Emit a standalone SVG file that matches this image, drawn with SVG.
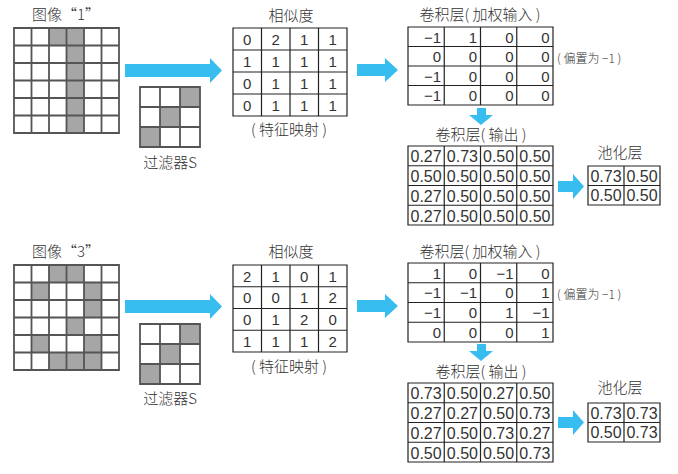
<svg xmlns="http://www.w3.org/2000/svg" width="678" height="474" viewBox="0 0 678 474">
<style>
.t{font-family:"Noto Sans CJK SC","Liberation Sans",sans-serif;font-weight:300;fill:#333;font-size:15px}
.s{font-size:12px}
.n{font-family:"Liberation Sans","DejaVu Sans",sans-serif;fill:#333;font-size:15px}
.o{font-size:16px}
.c{text-anchor:middle}
.e{text-anchor:end}
.g{fill:none;stroke:#222;stroke-width:1.2}
.ig{fill:none;stroke:#555;stroke-width:1.8}
.sh{fill:#a6a6a6}
.w{fill:#fff}
.ar{fill:#38bdf0}
</style>
<rect width="678" height="474" fill="#fff"/>

<!-- TOP ROW -->
<g id="image1">
<text class="t c" x="66" y="20">图像“1”</text>
<rect class="w" x="14" y="28" width="105" height="105"/>
<rect class="sh" x="49" y="28" width="35" height="17.5"/>
<rect class="sh" x="66.5" y="45.5" width="17.5" height="87.5"/>
<path class="ig" d="M14,28H119V133H14Z M31.5,28V133 M49,28V133 M66.5,28V133 M84,28V133 M101.5,28V133 M14,45.5H119 M14,63H119 M14,80.5H119 M14,98H119 M14,115.5H119"/>
</g>
<g id="filter1">
<rect class="w" x="140" y="87" width="60" height="60"/>
<rect class="sh" x="180" y="87" width="20" height="20"/>
<rect class="sh" x="160" y="107" width="20" height="20"/>
<rect class="sh" x="140" y="127" width="20" height="20"/>
<path class="ig" d="M140,87H200V147H140Z M160,87V147 M180,87V147 M140,107H200 M140,127H200"/>
<text class="t c" x="170" y="168">过滤器S</text>
</g>
<g id="sim1">
<text class="t c" x="291" y="21">相似度</text>
<path class="g" d="M233,28H347V116H233Z M261.5,28V116 M290,28V116 M318.5,28V116 M233,50H347 M233,72H347 M233,94H347"/>
<g class="n c">
<text x="247.25" y="44.5">0</text><text x="275.75" y="44.5">2</text><text x="304.25" y="44.5">1</text><text x="332.75" y="44.5">1</text>
<text x="247.25" y="66.5">1</text><text x="275.75" y="66.5">1</text><text x="304.25" y="66.5">1</text><text x="332.75" y="66.5">1</text>
<text x="247.25" y="88.5">0</text><text x="275.75" y="88.5">1</text><text x="304.25" y="88.5">1</text><text x="332.75" y="88.5">1</text>
<text x="247.25" y="110.5">0</text><text x="275.75" y="110.5">1</text><text x="304.25" y="110.5">1</text><text x="332.75" y="110.5">1</text>
</g>
<text class="t c" x="289" y="135">( 特征映射 )</text>
</g>
<g id="convin1">
<text class="t c" x="480" y="20">卷积层( 加权输入 )</text>
<path class="g" d="M408,27H553V105H408Z M444.25,27V105 M480.5,27V105 M516.75,27V105 M408,46.5H553 M408,66H553 M408,85.5H553"/>
<g class="n e">
<text x="441" y="42.5">−1</text><text x="477" y="42.5">1</text><text x="513.5" y="42.5">0</text><text x="549.5" y="42.5">0</text>
<text x="441" y="62">0</text><text x="477" y="62">0</text><text x="513.5" y="62">0</text><text x="549.5" y="62">0</text>
<text x="441" y="81.5">−1</text><text x="477" y="81.5">0</text><text x="513.5" y="81.5">0</text><text x="549.5" y="81.5">0</text>
<text x="441" y="101">−1</text><text x="477" y="101">0</text><text x="513.5" y="101">0</text><text x="549.5" y="101">0</text>
</g>
<text class="t s" x="557" y="63">( 偏置为 −1 )</text>
</g>
<g id="convout1">
<text class="t c" x="481" y="140">卷积层( 输出 )</text>
<path class="g" d="M408,146H553V225H408Z M444.25,146V225 M480.5,146V225 M516.75,146V225 M408,165.75H553 M408,185.5H553 M408,205.25H553"/>
<g class="n o c">
<text x="426.1" y="162">0.27</text><text x="462.4" y="162">0.73</text><text x="498.6" y="162">0.50</text><text x="534.9" y="162">0.50</text>
<text x="426.1" y="182">0.50</text><text x="462.4" y="182">0.50</text><text x="498.6" y="182">0.50</text><text x="534.9" y="182">0.50</text>
<text x="426.1" y="201.5">0.27</text><text x="462.4" y="201.5">0.50</text><text x="498.6" y="201.5">0.50</text><text x="534.9" y="201.5">0.50</text>
<text x="426.1" y="221.5">0.27</text><text x="462.4" y="221.5">0.50</text><text x="498.6" y="221.5">0.50</text><text x="534.9" y="221.5">0.50</text>
</g>
</g>
<g id="pool1">
<text class="t c" x="620" y="158">池化层</text>
<path class="g" d="M588,166H660V205H588Z M624,166V205 M588,185.5H660"/>
<g class="n o c">
<text x="606" y="181.5">0.73</text><text x="642" y="181.5">0.50</text>
<text x="606" y="201">0.50</text><text x="642" y="201">0.50</text>
</g>
</g>

<!-- BOTTOM ROW -->
<g id="image3">
<text class="t c" x="66" y="257">图像“3”</text>
<rect class="w" x="14" y="265" width="105" height="105"/>
<g class="sh">
<rect x="49" y="265" width="35" height="17.5"/>
<rect x="31.5" y="282.5" width="17.5" height="17.5"/>
<rect x="84" y="282.5" width="17.5" height="35"/>
<rect x="66.5" y="317.5" width="17.5" height="17.5"/>
<rect x="31.5" y="335" width="17.5" height="17.5"/>
<rect x="84" y="335" width="17.5" height="17.5"/>
<rect x="49" y="352.5" width="52.5" height="17.5"/>
</g>
<path class="ig" d="M14,265H119V370H14Z M31.5,265V370 M49,265V370 M66.5,265V370 M84,265V370 M101.5,265V370 M14,282.5H119 M14,300H119 M14,317.5H119 M14,335H119 M14,352.5H119"/>
</g>
<g id="filter3">
<rect class="w" x="140" y="324" width="60" height="60"/>
<rect class="sh" x="180" y="324" width="20" height="20"/>
<rect class="sh" x="160" y="344" width="20" height="20"/>
<rect class="sh" x="140" y="364" width="20" height="20"/>
<path class="ig" d="M140,324H200V384H140Z M160,324V384 M180,324V384 M140,344H200 M140,364H200"/>
<text class="t c" x="170" y="404">过滤器S</text>
</g>
<g id="sim3">
<text class="t c" x="291" y="257">相似度</text>
<path class="g" d="M233,265H347V352H233Z M261.5,265V352 M290,265V352 M318.5,265V352 M233,286.75H347 M233,308.5H347 M233,330.25H347"/>
<g class="n c">
<text x="247.25" y="281.5">2</text><text x="275.75" y="281.5">1</text><text x="304.25" y="281.5">0</text><text x="332.75" y="281.5">1</text>
<text x="247.25" y="303">0</text><text x="275.75" y="303">0</text><text x="304.25" y="303">1</text><text x="332.75" y="303">2</text>
<text x="247.25" y="324.5">0</text><text x="275.75" y="324.5">1</text><text x="304.25" y="324.5">2</text><text x="332.75" y="324.5">0</text>
<text x="247.25" y="346.5">1</text><text x="275.75" y="346.5">1</text><text x="304.25" y="346.5">1</text><text x="332.75" y="346.5">2</text>
</g>
<text class="t c" x="289" y="372">( 特征映射 )</text>
</g>
<g id="convin3">
<text class="t c" x="480" y="257">卷积层( 加权输入 )</text>
<path class="g" d="M408,263H553V342H408Z M444.25,263V342 M480.5,263V342 M516.75,263V342 M408,282.75H553 M408,302.5H553 M408,322.25H553"/>
<g class="n e">
<text x="441" y="278.5">1</text><text x="477" y="278.5">0</text><text x="513.5" y="278.5">−1</text><text x="549.5" y="278.5">0</text>
<text x="441" y="298">−1</text><text x="477" y="298">−1</text><text x="513.5" y="298">0</text><text x="549.5" y="298">1</text>
<text x="441" y="318">−1</text><text x="477" y="318">0</text><text x="513.5" y="318">1</text><text x="549.5" y="318">−1</text>
<text x="441" y="337.5">0</text><text x="477" y="337.5">0</text><text x="513.5" y="337.5">0</text><text x="549.5" y="337.5">1</text>
</g>
<text class="t s" x="557" y="299">( 偏置为 −1 )</text>
</g>
<g id="convout3">
<text class="t c" x="481" y="377">卷积层( 输出 )</text>
<path class="g" d="M408,383H553V462H408Z M444.25,383V462 M480.5,383V462 M516.75,383V462 M408,402.75H553 M408,422.5H553 M408,442.25H553"/>
<g class="n o c">
<text x="426.1" y="399">0.73</text><text x="462.4" y="399">0.50</text><text x="498.6" y="399">0.27</text><text x="534.9" y="399">0.50</text>
<text x="426.1" y="419">0.27</text><text x="462.4" y="419">0.27</text><text x="498.6" y="419">0.50</text><text x="534.9" y="419">0.73</text>
<text x="426.1" y="438.5">0.27</text><text x="462.4" y="438.5">0.50</text><text x="498.6" y="438.5">0.73</text><text x="534.9" y="438.5">0.27</text>
<text x="426.1" y="458.5">0.50</text><text x="462.4" y="458.5">0.50</text><text x="498.6" y="458.5">0.50</text><text x="534.9" y="458.5">0.73</text>
</g>
</g>
<g id="pool3">
<text class="t c" x="620" y="393">池化层</text>
<path class="g" d="M588,403H660V442H588Z M624,403V442 M588,422.5H660"/>
<g class="n o c">
<text x="606" y="418.5">0.73</text><text x="642" y="418.5">0.73</text>
<text x="606" y="438">0.50</text><text x="642" y="438">0.73</text>
</g>
</g>

<g id="connectors">
<polygon class="ar" points="125,64 210,64 210,58 222,70.5 210,83 210,77 125,77"/>
<polygon class="ar" points="357,64 385,64 385,58 398,70 385,82 385,76 357,76"/>
<polygon class="ar" points="477,108 486,108 486,115 493,115 481,125 469,115 477,115"/>
<polygon class="ar" points="558,181 573,181 573,174 584,186.5 573,199 573,192 558,192"/>
<polygon class="ar" points="125,300 210,300 210,294 222,306.5 210,319 210,313 125,313"/>
<polygon class="ar" points="357,300 385,300 385,294 398,306 385,318 385,312 357,312"/>
<polygon class="ar" points="477,344 486,344 486,351 493,351 481,361 469,351 477,351"/>
<polygon class="ar" points="558,417 573,417 573,410 584,422.5 573,435 573,428 558,428"/>
</g>
</svg>
